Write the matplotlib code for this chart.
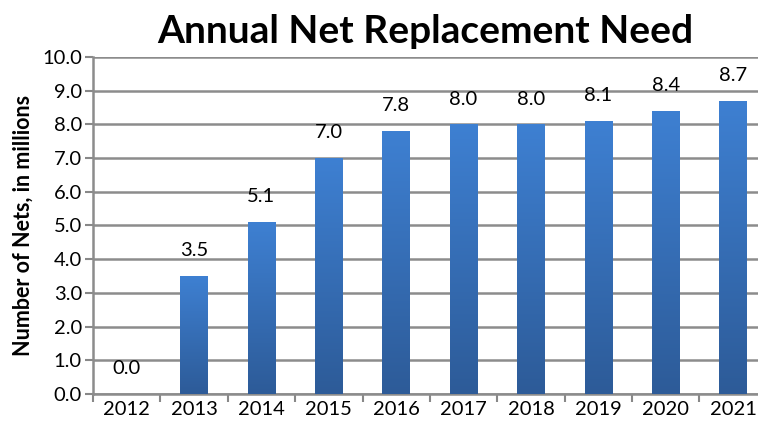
import numpy as np
import matplotlib.pyplot as plt
from matplotlib.colors import LinearSegmentedColormap

years = ["2012", "2013", "2014", "2015", "2016", "2017", "2018", "2019", "2020", "2021"]
nets_millions = [0.0, 3.5, 5.1, 7.0, 7.8, 8.0, 8.0, 8.1, 8.4, 8.7]

plt.rcParams["font.family"] = ["Lato", "DejaVu Sans"]

fig = plt.figure(figsize=(7.58, 4.23), dpi=100)
ax = fig.add_axes([93 / 758, 29 / 423, 665 / 758, 337 / 423])

x = np.arange(len(years))
bars = ax.bar(x, nets_millions, width=0.41, color="none", zorder=3)

# vertical gradient fill for each bar
grad = LinearSegmentedColormap.from_list("barfill", ["#2d5b98", "#3e80d2"])
gimg = np.linspace(0, 1, 256).reshape(-1, 1)
for b in bars:
    h = b.get_height()
    if h <= 0:
        continue
    x0 = b.get_x()
    im = ax.imshow(gimg, cmap=grad, origin="lower", aspect="auto",
                   extent=(x0, x0 + b.get_width(), 0, h), zorder=3)
    im.set_clip_path(b)

for xi, v in zip(x, nets_millions):
    ax.annotate(f"{v:.1f}", (xi, v), xytext=(0, 12), textcoords="offset points",
                ha="center", va="bottom", fontsize=14.5)

ax.set_xlim(-0.5, 9.37)
ax.set_ylim(0, 10)
ax.set_yticks(np.arange(0, 10.01, 1.0))
ax.set_yticklabels([f"{t:.1f}" for t in np.arange(0, 10.01, 1.0)], fontsize=14.5)
ax.set_xticks(x)
ax.set_xticklabels(years, fontsize=14.5)
ax.set_xticks(np.arange(-0.5, 9.5, 1.0), minor=True)
ax.tick_params(axis="x", which="major", length=0, pad=5)
ax.tick_params(axis="x", which="minor", length=6, width=1.5, color="#888888")
ax.tick_params(axis="y", length=6, width=1.5, color="#888888", pad=2)

ax.grid(axis="y", color="#8c8c8c", linewidth=1.8, zorder=0)
ax.set_axisbelow(True)
for side in ["top", "right"]:
    ax.spines[side].set_visible(False)
for side in ["left", "bottom"]:
    ax.spines[side].set_color("#8c8c8c")
    ax.spines[side].set_linewidth(1.8)

ax.set_ylabel("Number of Nets, in millions", fontsize=15.5, fontweight="bold", labelpad=6)
fig.text(0.561, 0.925, "Annual Net Replacement Need", ha="center", va="center",
         fontsize=28, fontweight="bold")

fig.savefig("out.png", dpi=100)
